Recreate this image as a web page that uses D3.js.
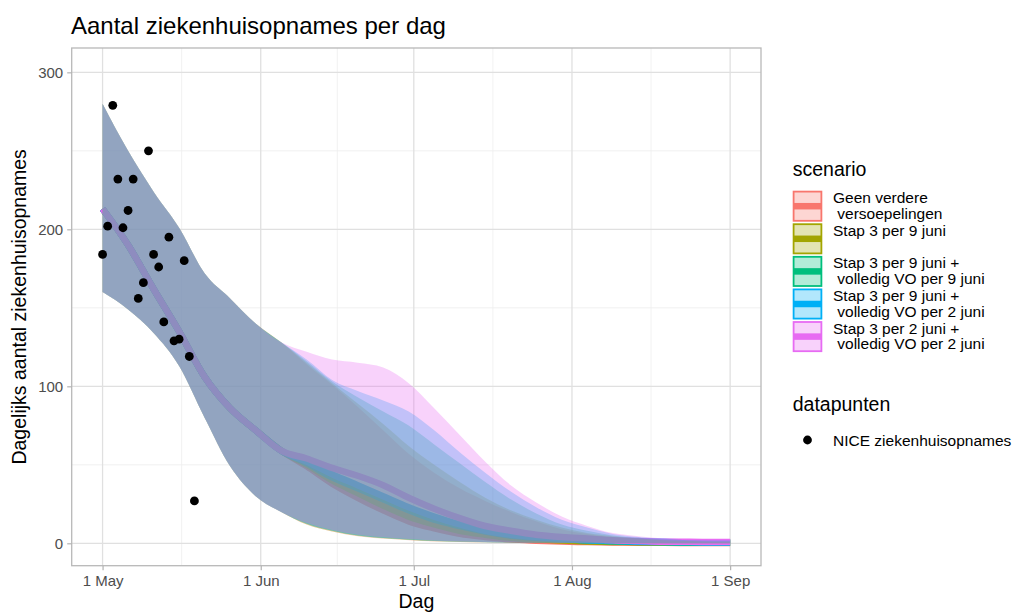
<!DOCTYPE html>
<html>
<head>
<meta charset="utf-8">
<script src="https://cdn.jsdelivr.net/npm/d3@7"></script>
<style>
  body { margin: 0; background: #ffffff; }
  svg text { font-family: "Liberation Sans", Arial, Helvetica, sans-serif; }
</style>
</head>
<body>
<svg id="chart" width="1014" height="614"></svg>
<script>
// ---- data -------------------------------------------------------------
// model output grid (every 5 days from 1 May to 1 Sep 2021)
const dates = [
  "2021-05-01","2021-05-06","2021-05-11","2021-05-16","2021-05-21","2021-05-26",
  "2021-05-31","2021-06-05","2021-06-10","2021-06-15","2021-06-20","2021-06-25",
  "2021-06-30","2021-07-05","2021-07-10","2021-07-15","2021-07-20","2021-07-25",
  "2021-07-30","2021-08-04","2021-08-09","2021-08-14","2021-08-19","2021-08-24",
  "2021-08-29","2021-09-01"
];

const scenarioLabels = [
  ["Geen verdere", " versoepelingen"],
  ["Stap 3 per 9 juni", ""],
  ["Stap 3 per 9 juni +", " volledig VO per 9 juni"],
  ["Stap 3 per 9 juni +", " volledig VO per 2 juni"],
  ["Stap 3 per 2 juni +", " volledig VO per 2 juni"]
];

// Geen verdere versoepelingen
const medianGeen = [213,190,162,135,106,86,72,59,49,38,29,21,14,9.5,6,4,2.5,1.7,1.1,0.8,0.5,0.4,0.3,0.2,0.2,0.2];
const lowerGeen  = [160,149,134,113,80,49,30,20,12,7.5,4.5,3,2,1.2,0.8,0.5,0.3,0.2,0.1,0,0,0,0,0,0,0];
const upperGeen  = [280,250,224,201,172,156,140,128,114,101,87,72,57,45,35,27,20,14,9,6,4,3,2,1.5,1,1];

// Stap 3 per 9 juni
const medianStap9 = [213,190,162,135,106,86,72,59,50,40,32,24,17,12,8,5.5,3.5,2.5,1.8,1.2,0.9,0.6,0.5,0.4,0.3,0.3];
const lowerStap9  = [160,149,134,113,80,49,30,20,12,7.5,4.6,3.1,2.1,1.3,0.9,0.6,0.4,0.2,0.1,0.1,0,0,0,0,0,0];
const upperStap9  = [280,250,224,201,172,156,140,128,115,102,89,76,62,50,39,29,21,15,10,6.5,4.5,3,2,1.5,1,1];

// Stap 3 per 9 juni + volledig VO per 9 juni
const medianVO9 = [213,190,162,135,106,86,72,59,51,42,35,28,21,15,11,7.5,5,3.5,2.5,1.8,1.3,0.9,0.7,0.5,0.4,0.4];
const lowerVO9  = [160,149,134,113,80,49,30,20,12.5,8,5,3.3,2.3,1.5,1,0.7,0.4,0.3,0.2,0.1,0.1,0,0,0,0,0];
const upperVO9  = [280,250,224,201,172,156,140,128,116,103,93,84,75,63,51,39,28,19,12,8,5,3.5,2.5,2,1.5,1.5];

// Stap 3 per 9 juni + volledig VO per 2 juni
const medianVO2 = [213,190,162,135,106,86,72,59,52,44,37,30,23,17,12,8,5.5,4,3,2,1.5,1,0.8,0.6,0.5,0.5];
const lowerVO2  = [160,149,134,113,80,49,30,20,12.5,8,5,3.4,2.4,1.6,1.1,0.7,0.5,0.3,0.2,0.1,0.1,0,0,0,0,0];
const upperVO2  = [280,250,224,201,172,156,140,128,117,104,97,91,84,72,58,45,33,23,15,10,6,4,3,2,2,2];

// Stap 3 per 2 juni + volledig VO per 2 juni
const medianStap2 = [213,190,162,135,106,86,72,59,54,48,43,37,29,22,16,11,8,5.5,4,3,2,1.5,1,1,0.8,0.8];
const lowerStap2  = [160,149,134,113,80,49,30,20,13,8.5,5.5,3.8,2.7,1.8,1.2,0.8,0.5,0.3,0.2,0.1,0.1,0,0,0,0,0];
const upperStap2  = [280,250,224,201,172,156,140,128,122,117,115,112,102,86,69,52,37,26,17,11,6.5,4.5,3,2.5,2,2];

// NICE hospital admissions (observed)
const pointDates = [
  "2021-05-01","2021-05-02","2021-05-03","2021-05-04","2021-05-05","2021-05-06",
  "2021-05-07","2021-05-08","2021-05-09","2021-05-10","2021-05-11","2021-05-12",
  "2021-05-13","2021-05-14","2021-05-15","2021-05-16","2021-05-17","2021-05-18",
  "2021-05-19"
];
const pointValues = [184,202,279,232,201,212,232,156,166,250,184,176,141,195,129,130,180,119,27];

const xTickDates  = ["2021-05-01","2021-06-01","2021-07-01","2021-08-01","2021-09-01"];
const xTickLabels = ["1 May","1 Jun","1 Jul","1 Aug","1 Sep"];
const yTicks      = [0,100,200,300];
const yMinorTicks = [50,150,250];

// ---- assembly ---------------------------------------------------------
const palette = ["#F8766D","#A3A500","#00BF7D","#00B0F6","#E76BF3"];
const seriesMedian = [medianGeen, medianStap9, medianVO9, medianVO2, medianStap2];
const seriesLower  = [lowerGeen, lowerStap9, lowerVO9, lowerVO2, lowerStap2];
const seriesUpper  = [upperGeen, upperStap9, upperVO9, upperVO2, upperStap2];

const parse = d3.utcParse("%Y-%m-%d");
const gridDates = dates.map(parse);
const scenarios = seriesMedian.map((m, i) => ({
  label: scenarioLabels[i],
  color: palette[i],
  rows: gridDates.map((d, j) => ({ date: d, mid: m[j], lo: seriesLower[i][j], hi: seriesUpper[i][j] }))
}));
const points = pointDates.map((d, i) => ({ date: parse(d), value: pointValues[i] }));

// ---- layout -----------------------------------------------------------
const panel = { left: 71.7, right: 761, top: 48, bottom: 565.7 };
const svg = d3.select("#chart");

const dayMs = 86400000;
const x0 = parse("2021-05-01"), x1 = parse("2021-09-01");
const pad = 6.05 * dayMs;
const x = d3.scaleUtc()
  .domain([new Date(+x0 - pad), new Date(+x1 + pad)])
  .range([panel.left, panel.right]);
const y = d3.scaleLinear()
  .domain([-14.27, 315.5])
  .range([panel.bottom, panel.top]);

// title
svg.append("text")
  .attr("x", 71).attr("y", 34)
  .attr("font-size", 24).attr("fill", "#000")
  .text("Aantal ziekenhuisopnames per dag");

// grid
const grid = svg.append("g");
const xMajor = xTickDates.map(parse);
const xMinor = d3.pairs(xMajor).map(([a, b]) => new Date((+a + +b) / 2));
grid.selectAll(".ymin").data(yMinorTicks).join("line")
  .attr("x1", panel.left).attr("x2", panel.right)
  .attr("y1", d => y(d)).attr("y2", d => y(d))
  .attr("stroke", "#ededed").attr("stroke-width", 0.8);
grid.selectAll(".xmin").data(xMinor).join("line")
  .attr("y1", panel.top).attr("y2", panel.bottom)
  .attr("x1", d => x(d)).attr("x2", d => x(d))
  .attr("stroke", "#ededed").attr("stroke-width", 0.8);
grid.selectAll(".ymaj").data(yTicks).join("line")
  .attr("x1", panel.left).attr("x2", panel.right)
  .attr("y1", d => y(d)).attr("y2", d => y(d))
  .attr("stroke", "#e0e0e0").attr("stroke-width", 1.3);
grid.selectAll(".xmaj").data(xMajor).join("line")
  .attr("y1", panel.top).attr("y2", panel.bottom)
  .attr("x1", d => x(d)).attr("x2", d => x(d))
  .attr("stroke", "#e0e0e0").attr("stroke-width", 1.3);

// clip to panel
svg.append("clipPath").attr("id", "panelClip")
  .append("rect")
  .attr("x", panel.left).attr("y", panel.top)
  .attr("width", panel.right - panel.left).attr("height", panel.bottom - panel.top);
const plot = svg.append("g").attr("clip-path", "url(#panelClip)");

// median lines first, the ribbons are layered on top of them
const line = d3.line().x(d => x(d.date)).y(d => y(d.mid)).curve(d3.curveMonotoneX);
plot.selectAll(".median").data(scenarios).join("path")
  .attr("d", s => line(s.rows))
  .attr("fill", "none")
  .attr("stroke", s => s.color)
  .attr("stroke-width", 6.5)
  .attr("stroke-linecap", "butt");

const area = d3.area().x(d => x(d.date)).y0(d => y(d.lo)).y1(d => y(d.hi)).curve(d3.curveMonotoneX);
plot.selectAll(".ribbon").data(scenarios).join("path")
  .attr("d", s => area(s.rows))
  .attr("fill", s => s.color)
  .attr("fill-opacity", 0.3)
  .attr("stroke", "none");

// observed points
plot.selectAll(".pt").data(points).join("circle")
  .attr("cx", d => x(d.date)).attr("cy", d => y(d.value))
  .attr("r", 4.4).attr("fill", "#000");

// panel border
svg.append("rect")
  .attr("x", panel.left).attr("y", panel.top)
  .attr("width", panel.right - panel.left).attr("height", panel.bottom - panel.top)
  .attr("fill", "none").attr("stroke", "#b8b8b8").attr("stroke-width", 1.3);

// axes
const xAxis = d3.axisBottom(x).tickValues(xMajor)
  .tickFormat((d, i) => xTickLabels[i]).tickSize(4.5).tickPadding(5);
const gx = svg.append("g").attr("transform", `translate(0,${panel.bottom})`).call(xAxis);
const yAxis = d3.axisLeft(y).tickValues(yTicks).tickSize(4.5).tickPadding(4);
const gy = svg.append("g").attr("transform", `translate(${panel.left},0)`).call(yAxis);
[gx, gy].forEach(g => {
  g.select(".domain").remove();
  g.selectAll(".tick line").attr("stroke", "#b3b3b3").attr("stroke-width", 1.2);
  g.selectAll(".tick text").attr("fill", "#4d4d4d").attr("font-size", 15)
    .attr("font-family", "Liberation Sans, Arial, sans-serif");
});

// axis titles
svg.append("text")
  .attr("x", (panel.left + panel.right) / 2).attr("y", 608)
  .attr("text-anchor", "middle").attr("font-size", 19.5).attr("fill", "#000")
  .text("Dag");
svg.append("text")
  .attr("transform", `translate(26,${(panel.top + panel.bottom) / 2}) rotate(-90)`)
  .attr("text-anchor", "middle").attr("font-size", 19.5).attr("fill", "#000")
  .text("Dagelijks aantal ziekenhuisopnames");

// legend: scenario
const legX = 792.7, keyW = 29.6, keyH = 31, keyStep = 32.6, keyTop = 190.7;
const leg = svg.append("g");
leg.append("text").attr("x", legX).attr("y", 176)
  .attr("font-size", 19.5).attr("fill", "#000").text("scenario");
const keys = leg.selectAll(".key").data(scenarios).join("g")
  .attr("transform", (d, i) => `translate(${legX},${keyTop + i * keyStep})`);
keys.append("rect").attr("width", keyW).attr("height", keyH).attr("fill", "#fff");
keys.append("line")
  .attr("x1", 1).attr("x2", keyW - 1).attr("y1", keyH / 2).attr("y2", keyH / 2)
  .attr("stroke", d => d.color).attr("stroke-width", 6.5);
keys.append("rect")
  .attr("x", 0.9).attr("y", 0.9).attr("width", keyW - 1.8).attr("height", keyH - 1.8)
  .attr("fill", d => d.color).attr("fill-opacity", 0.3)
  .attr("stroke", d => d.color).attr("stroke-width", 1.8);
keys.each(function(d) {
  const t = d3.select(this).append("text")
    .attr("x", keyW + 10.7).attr("font-size", 15.5).attr("fill", "#000")
    .style("white-space", "pre");
  d.label.forEach((ln, k) => {
    t.append("tspan").attr("x", keyW + 10.7).attr("y", keyH / 2 - 3 + k * 15.8).text(ln);
  });
});

// legend: data points
leg.append("text").attr("x", legX).attr("y", 411)
  .attr("font-size", 19.5).attr("fill", "#000").text("datapunten");
leg.append("circle").attr("cx", legX + keyW / 2).attr("cy", 440).attr("r", 4.4).attr("fill", "#000");
leg.append("text").attr("x", legX + keyW + 10.7).attr("y", 445.5)
  .attr("font-size", 15.5).attr("fill", "#000").text("NICE ziekenhuisopnames");
</script>
</body>
</html>
